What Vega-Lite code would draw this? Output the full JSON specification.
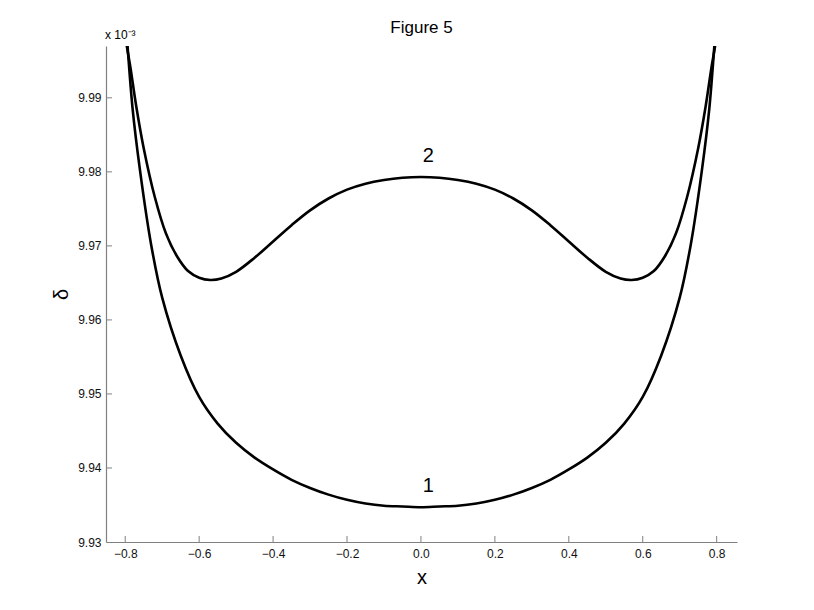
{
  "$schema": "https://vega.github.io/schema/vega-lite/v6.json",
  "width": 631,
  "height": 496,
  "autosize": "none",
  "padding": {"left": 106, "top": 46, "right": 77, "bottom": 68},
  "background": "white",
  "config": {
    "view": {"stroke": null, "fill": null},
    "font": "Liberation Sans",
    "axis": {
      "grid": false,
      "ticks": false,
      "domainColor": "#808080",
      "domainWidth": 1.2,
      "labelFont": "Liberation Sans",
      "labelFontSize": 12,
      "labelColor": "#111111",
      "titleFont": "Liberation Sans",
      "titleFontWeight": "normal",
      "titleColor": "#000000"
    }
  },
  "title": {
    "text": "Figure 5",
    "fontSize": 17,
    "font": "Liberation Sans",
    "fontWeight": "normal",
    "color": "#000000",
    "offset": -8,
    "anchor": "middle"
  },
  "datasets": {
    "curves": [
      {"x": -0.82, "delta": 10.012, "curve": "1"},
      {"x": -0.8, "delta": 10.001, "curve": "1"},
      {"x": -0.78, "delta": 9.9885, "curve": "1"},
      {"x": -0.76, "delta": 9.9802, "curve": "1"},
      {"x": -0.73, "delta": 9.9702, "curve": "1"},
      {"x": -0.7, "delta": 9.963, "curve": "1"},
      {"x": -0.65, "delta": 9.9552, "curve": "1"},
      {"x": -0.6, "delta": 9.9496, "curve": "1"},
      {"x": -0.55, "delta": 9.946, "curve": "1"},
      {"x": -0.5, "delta": 9.9434, "curve": "1"},
      {"x": -0.45, "delta": 9.9414, "curve": "1"},
      {"x": -0.4, "delta": 9.9398, "curve": "1"},
      {"x": -0.35, "delta": 9.9384, "curve": "1"},
      {"x": -0.3, "delta": 9.9373, "curve": "1"},
      {"x": -0.25, "delta": 9.9364, "curve": "1"},
      {"x": -0.2, "delta": 9.9357, "curve": "1"},
      {"x": -0.15, "delta": 9.9352, "curve": "1"},
      {"x": -0.1, "delta": 9.9349, "curve": "1"},
      {"x": -0.05, "delta": 9.9348, "curve": "1"},
      {"x": 0, "delta": 9.9347, "curve": "1"},
      {"x": 0.05, "delta": 9.9348, "curve": "1"},
      {"x": 0.1, "delta": 9.9349, "curve": "1"},
      {"x": 0.15, "delta": 9.9352, "curve": "1"},
      {"x": 0.2, "delta": 9.9357, "curve": "1"},
      {"x": 0.25, "delta": 9.9364, "curve": "1"},
      {"x": 0.3, "delta": 9.9373, "curve": "1"},
      {"x": 0.35, "delta": 9.9384, "curve": "1"},
      {"x": 0.4, "delta": 9.9398, "curve": "1"},
      {"x": 0.45, "delta": 9.9414, "curve": "1"},
      {"x": 0.5, "delta": 9.9434, "curve": "1"},
      {"x": 0.55, "delta": 9.946, "curve": "1"},
      {"x": 0.6, "delta": 9.9496, "curve": "1"},
      {"x": 0.65, "delta": 9.9552, "curve": "1"},
      {"x": 0.7, "delta": 9.963, "curve": "1"},
      {"x": 0.73, "delta": 9.9702, "curve": "1"},
      {"x": 0.76, "delta": 9.9802, "curve": "1"},
      {"x": 0.78, "delta": 9.9885, "curve": "1"},
      {"x": 0.8, "delta": 10.001, "curve": "1"},
      {"x": 0.82, "delta": 10.012, "curve": "1"},
      {"x": -0.82, "delta": 10.01, "curve": "2"},
      {"x": -0.8, "delta": 9.9985, "curve": "2"},
      {"x": -0.785, "delta": 9.9938, "curve": "2"},
      {"x": -0.77, "delta": 9.9888, "curve": "2"},
      {"x": -0.75, "delta": 9.9832, "curve": "2"},
      {"x": -0.72, "delta": 9.9766, "curve": "2"},
      {"x": -0.69, "delta": 9.9717, "curve": "2"},
      {"x": -0.66, "delta": 9.9686, "curve": "2"},
      {"x": -0.63, "delta": 9.9666, "curve": "2"},
      {"x": -0.6, "delta": 9.9657, "curve": "2"},
      {"x": -0.57, "delta": 9.9654, "curve": "2"},
      {"x": -0.54, "delta": 9.9656, "curve": "2"},
      {"x": -0.5, "delta": 9.9665, "curve": "2"},
      {"x": -0.45, "delta": 9.9684, "curve": "2"},
      {"x": -0.4, "delta": 9.9706, "curve": "2"},
      {"x": -0.35, "delta": 9.9728, "curve": "2"},
      {"x": -0.3, "delta": 9.9748, "curve": "2"},
      {"x": -0.25, "delta": 9.9764, "curve": "2"},
      {"x": -0.2, "delta": 9.9776, "curve": "2"},
      {"x": -0.15, "delta": 9.9784, "curve": "2"},
      {"x": -0.1, "delta": 9.9789, "curve": "2"},
      {"x": -0.05, "delta": 9.9792, "curve": "2"},
      {"x": 0, "delta": 9.9793, "curve": "2"},
      {"x": 0.05, "delta": 9.9792, "curve": "2"},
      {"x": 0.1, "delta": 9.9789, "curve": "2"},
      {"x": 0.15, "delta": 9.9784, "curve": "2"},
      {"x": 0.2, "delta": 9.9776, "curve": "2"},
      {"x": 0.25, "delta": 9.9764, "curve": "2"},
      {"x": 0.3, "delta": 9.9748, "curve": "2"},
      {"x": 0.35, "delta": 9.9728, "curve": "2"},
      {"x": 0.4, "delta": 9.9706, "curve": "2"},
      {"x": 0.45, "delta": 9.9684, "curve": "2"},
      {"x": 0.5, "delta": 9.9665, "curve": "2"},
      {"x": 0.54, "delta": 9.9656, "curve": "2"},
      {"x": 0.57, "delta": 9.9654, "curve": "2"},
      {"x": 0.6, "delta": 9.9657, "curve": "2"},
      {"x": 0.63, "delta": 9.9666, "curve": "2"},
      {"x": 0.66, "delta": 9.9686, "curve": "2"},
      {"x": 0.69, "delta": 9.9717, "curve": "2"},
      {"x": 0.72, "delta": 9.9766, "curve": "2"},
      {"x": 0.75, "delta": 9.9832, "curve": "2"},
      {"x": 0.77, "delta": 9.9888, "curve": "2"},
      {"x": 0.785, "delta": 9.9938, "curve": "2"},
      {"x": 0.8, "delta": 9.9985, "curve": "2"},
      {"x": 0.82, "delta": 10.01, "curve": "2"}
    ],
    "xticks": [
      {"x": -0.8}, {"x": -0.6}, {"x": -0.4}, {"x": -0.2}, {"x": 0},
      {"x": 0.2}, {"x": 0.4}, {"x": 0.6}, {"x": 0.8}
    ],
    "yticks": [
      {"delta": 9.94}, {"delta": 9.95}, {"delta": 9.96},
      {"delta": 9.97}, {"delta": 9.98}, {"delta": 9.99}
    ],
    "labels": [
      {"x": 0.02, "delta": 9.9362, "label": "1"},
      {"x": 0.02, "delta": 9.9808, "label": "2"}
    ],
    "scale_note": [
      {"x": -0.855, "delta": 9.9985, "label": "x 10⁻³"}
    ]
  },
  "layer": [
    {
      "data": {"name": "curves"},
      "mark": {"type": "line", "clip": true, "color": "#000000", "strokeWidth": 2.6, "interpolate": "catmull-rom"},
      "encoding": {
        "x": {
          "field": "x", "type": "quantitative",
          "scale": {"domain": [-0.852, 0.855], "nice": false, "zero": false},
          "axis": {"values": [-0.8, -0.6, -0.4, -0.2, 0, 0.2, 0.4, 0.6, 0.8], "format": ".1f", "title": "x", "titleFontSize": 20, "titlePadding": 8, "labelPadding": 6}
        },
        "y": {
          "field": "delta", "type": "quantitative",
          "scale": {"domain": [9.93, 9.997], "nice": false, "zero": false},
          "axis": {"values": [9.93, 9.94, 9.95, 9.96, 9.97, 9.98, 9.99], "format": ".2f", "title": "δ", "titleFontSize": 20, "titlePadding": 6, "labelPadding": 5}
        },
        "detail": {"field": "curve", "type": "nominal"}
      }
    },
    {
      "data": {"name": "xticks"},
      "mark": {"type": "rule", "color": "#808080", "strokeWidth": 1},
      "encoding": {
        "x": {"field": "x", "type": "quantitative"},
        "y": {"datum": 9.93},
        "y2": {"datum": 9.93081}
      }
    },
    {
      "data": {"name": "yticks"},
      "mark": {"type": "rule", "color": "#808080", "strokeWidth": 1},
      "encoding": {
        "y": {"field": "delta", "type": "quantitative"},
        "x": {"datum": -0.852},
        "x2": {"datum": -0.8358}
      }
    },
    {
      "data": {"name": "labels"},
      "mark": {"type": "text", "fontSize": 20, "font": "Liberation Sans", "color": "#000000", "baseline": "bottom", "align": "center"},
      "encoding": {
        "x": {"field": "x", "type": "quantitative"},
        "y": {"field": "delta", "type": "quantitative"},
        "text": {"field": "label"}
      }
    },
    {
      "data": {"name": "scale_note"},
      "mark": {"type": "text", "fontSize": 12, "font": "Liberation Sans", "color": "#000000", "baseline": "middle", "align": "left", "clip": false},
      "encoding": {
        "x": {"field": "x", "type": "quantitative"},
        "y": {"field": "delta", "type": "quantitative"},
        "text": {"field": "label"}
      }
    }
  ]
}
